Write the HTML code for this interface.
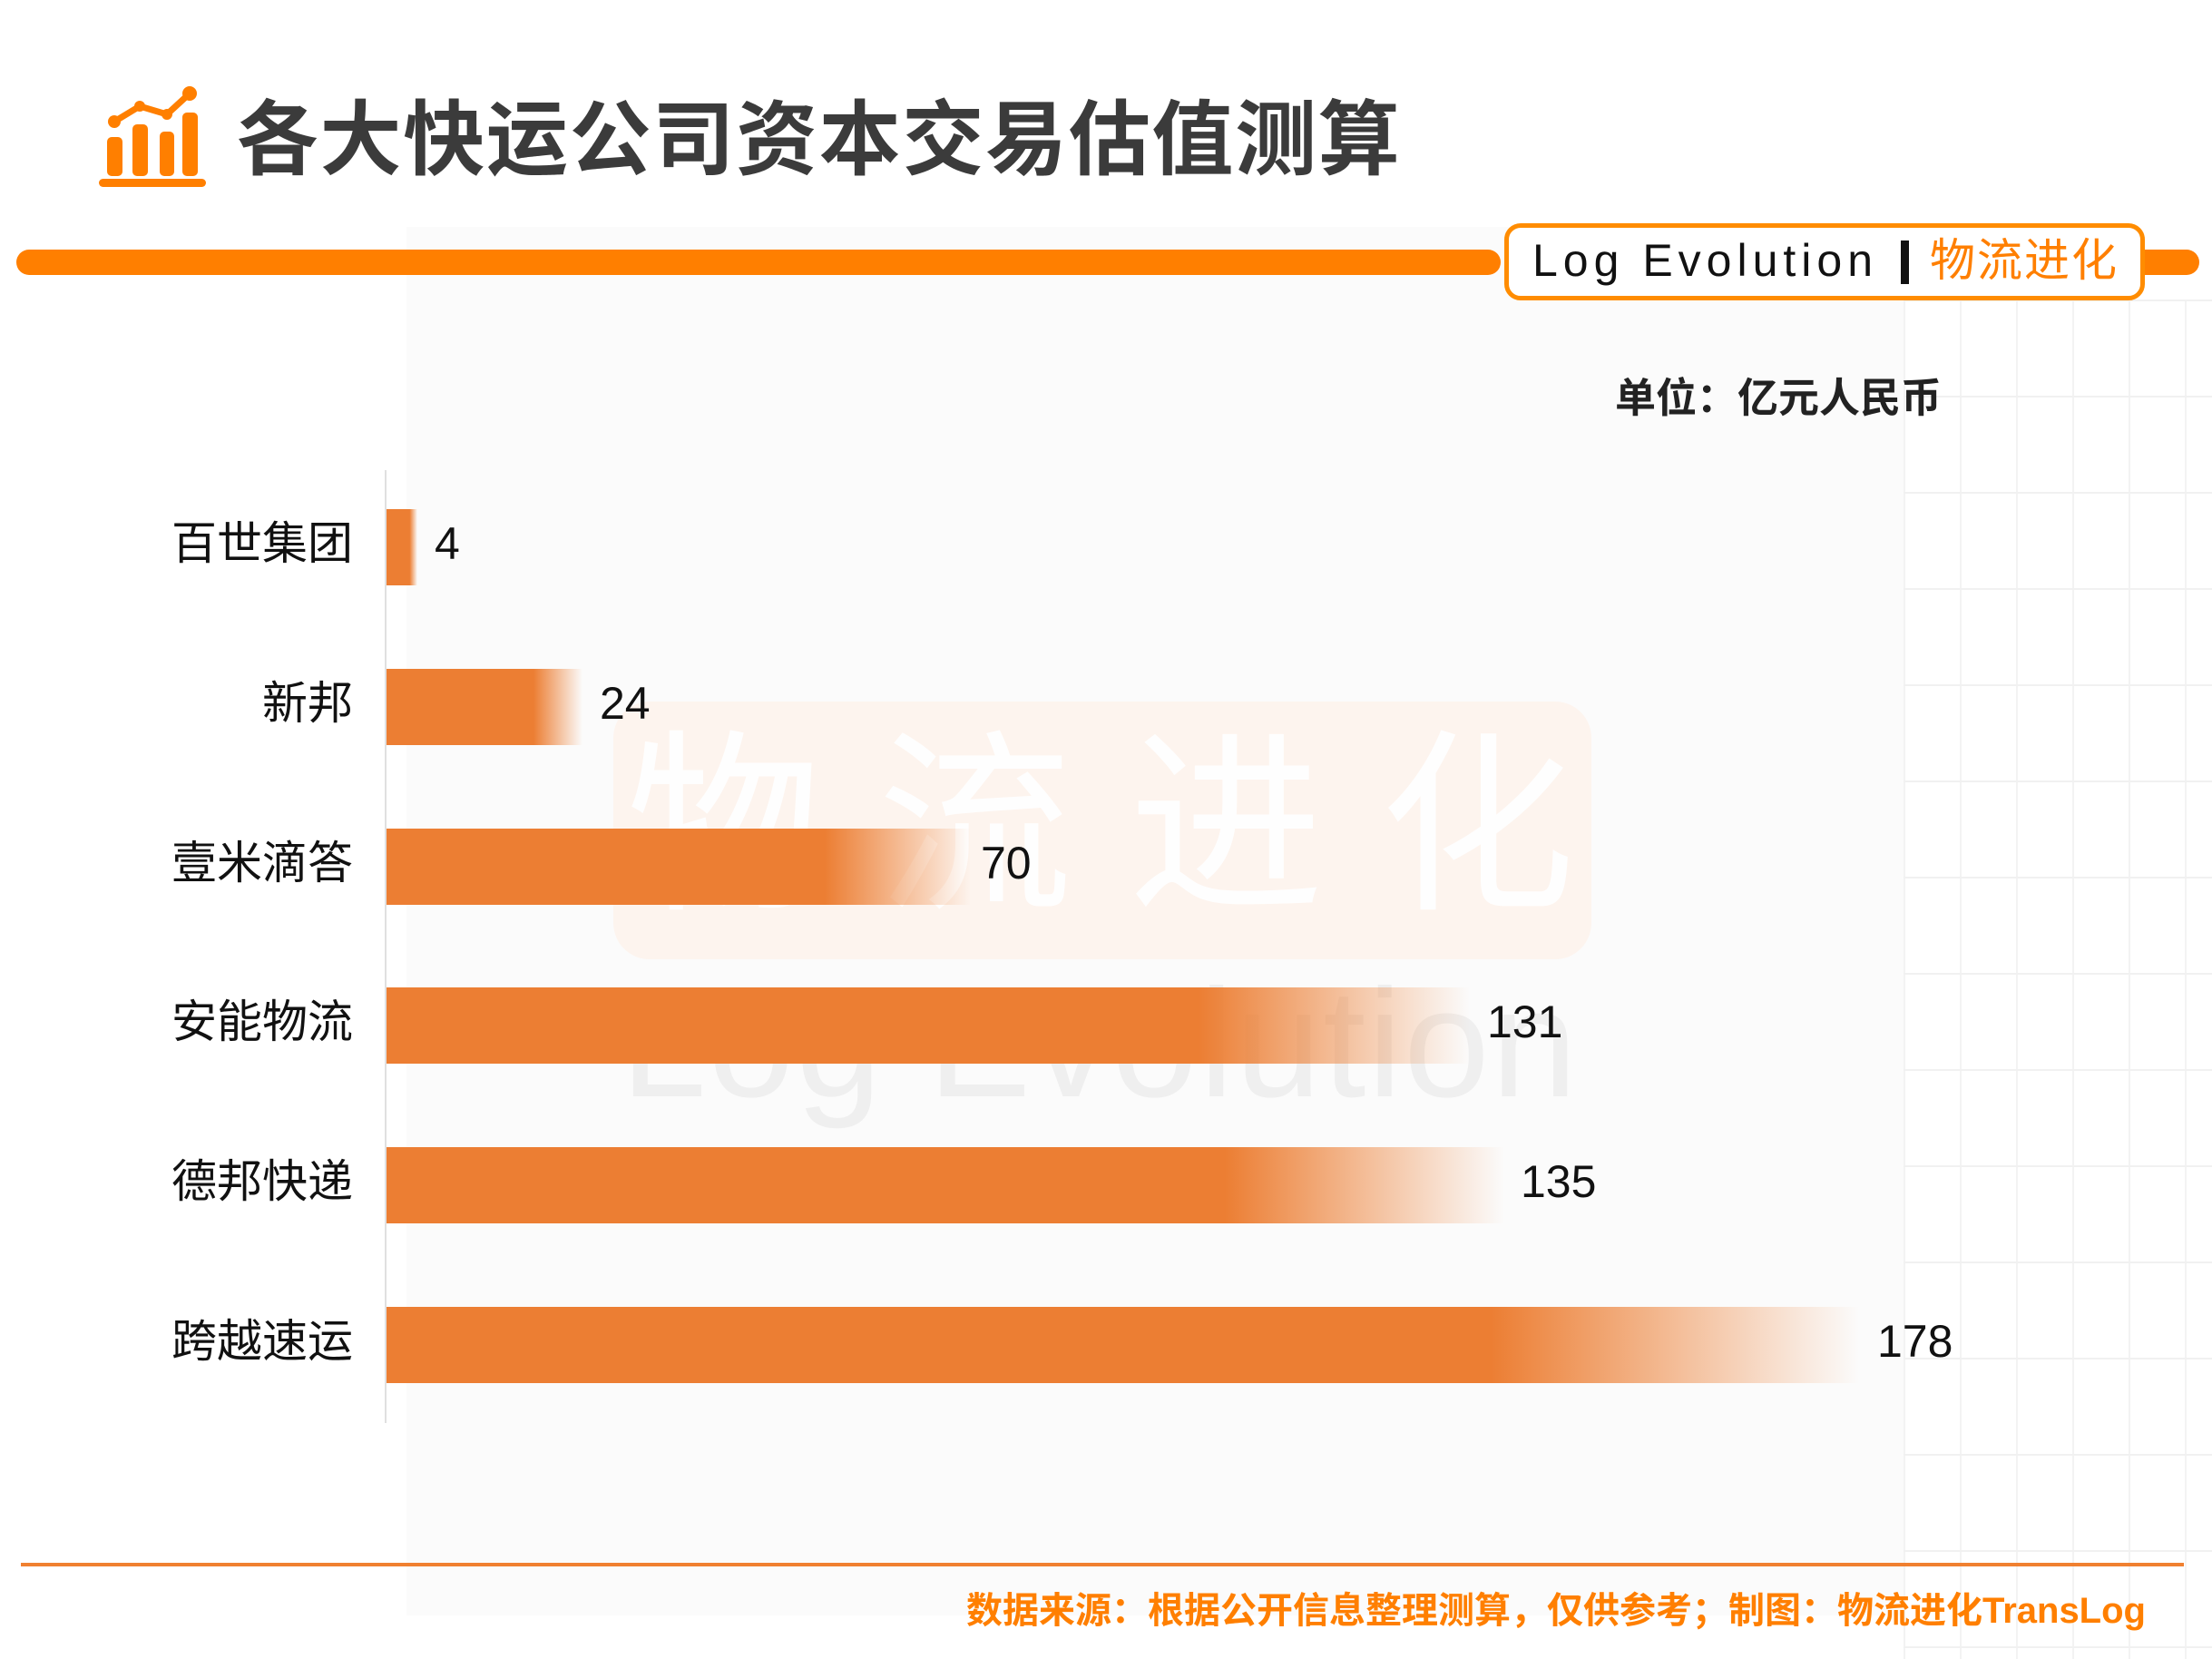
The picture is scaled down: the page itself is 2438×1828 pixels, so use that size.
<!DOCTYPE html>
<html><head><meta charset="utf-8"><style>
*{margin:0;padding:0;box-sizing:border-box}
body{width:2438px;height:1828px;position:relative;background:#fff;overflow:hidden;font-family:"Liberation Sans","Noto Sans CJK SC",sans-serif}
.abs{position:absolute}
.panel{left:448px;top:250px;width:1650px;height:1530px;background:#fbfbfb}
.grid{left:2098px;top:330px;width:340px;height:1498px;background-image:linear-gradient(#eee 2px,transparent 2px),linear-gradient(90deg,#f1f1f1 2px,transparent 2px);background-size:62px 106px;opacity:.8}
.title{left:260px;top:90px;height:130px;display:flex;font-size:90px;font-weight:bold;color:#3b3b3b;line-height:130px}
.title span{width:91.7px;text-align:center;display:block}
.obar{top:275px;height:28px;background:#ff7f00;border-radius:14px}
.logo{left:1658px;top:246px;width:706px;height:85px;border:5px solid #ff8c00;border-radius:18px;background:#fff}
.lt{font-size:50px;line-height:75px;white-space:nowrap;top:250px}
.unit{left:1780px;top:402px;font-size:45px;font-weight:bold;color:#222;white-space:nowrap}
.axis{left:424px;top:518px;width:2px;height:1050px;background:#e0e0e0}
.bar{left:426px;height:84px}
.cat{width:389px;text-align:right;font-size:50px;color:#111;line-height:84px;left:0;margin-top:-4px}
.val{font-size:50px;color:#111;line-height:84px;margin-top:-4px}
.wm{left:676px;top:773px;width:1078px;height:284px;background:#fdf4ee;border-radius:40px}
.wmt{font-size:215px;color:#fff;line-height:215px;top:803px;opacity:.95}
.wml{left:684px;top:1050px;font-size:170px;color:#efefef;white-space:nowrap;line-height:200px;letter-spacing:2px}
.foot{right:73px;top:1747px;font-size:40px;font-weight:bold;color:#ff7f00;white-space:nowrap;line-height:56px}
</style></head><body>
<div class="abs panel"></div>
<div class="abs grid"></div>
<div class="abs wm"></div>
<div class="abs wmt" style="left:690px">物</div>
<div class="abs wmt" style="left:967px">流</div>
<div class="abs wmt" style="left:1244px">进</div>
<div class="abs wmt" style="left:1521px">化</div>
<div class="abs wml">Log Evolution</div>

<svg class="abs" style="left:0;top:0" width="260" height="230">
 <g fill="#ff7f00"><rect x="118" y="151" width="17" height="43" rx="5"/><rect x="146" y="137" width="17" height="57" rx="5"/><rect x="176" y="145" width="16" height="49" rx="5"/><rect x="201" y="124" width="17" height="70" rx="5"/><rect x="109" y="197" width="118" height="9" rx="4.5"/>
 <circle cx="126" cy="134" r="7"/><circle cx="154" cy="117" r="6"/><circle cx="184" cy="126" r="6"/><circle cx="209" cy="103" r="8"/></g>
 <polyline points="126,134 154,117 184,126 209,103" fill="none" stroke="#ff7f00" stroke-width="7"/>
</svg>
<div class="abs title"><span>各</span><span>大</span><span>快</span><span>运</span><span>公</span><span>司</span><span>资</span><span>本</span><span>交</span><span>易</span><span>估</span><span>值</span><span>测</span><span>算</span></div>

<div class="abs obar" style="left:18px;width:1636px"></div>
<div class="abs obar" style="left:2350px;width:74px"></div>
<div class="abs logo"></div>
<div class="abs lt" style="left:1689px;color:#111;letter-spacing:6px">Log Evolution</div>
<div class="abs" style="left:2095px;top:265px;width:9px;height:48px;background:#111"></div>
<div class="abs lt" style="left:2127px;color:#ff7f00;letter-spacing:2px">物流进化</div>

<div class="abs unit">单位：亿元人民币</div>
<div class="abs axis"></div>

<div class="abs cat" style="top:561px">百世集团</div>
<div class="abs bar" style="top:561px;width:34px;background:linear-gradient(90deg,#ec7e33 75%,rgba(236,126,51,0))"></div>
<div class="abs val" style="top:561px;left:479px">4</div>

<div class="abs cat" style="top:737px">新邦</div>
<div class="abs bar" style="top:737px;width:216px;background:linear-gradient(90deg,#ec7e33 75%,rgba(236,126,51,0))"></div>
<div class="abs val" style="top:737px;left:661px">24</div>

<div class="abs cat" style="top:913px">壹米滴答</div>
<div class="abs bar" style="top:913px;width:644px;background:linear-gradient(90deg,#ec7e33 75%,rgba(236,126,51,0))"></div>
<div class="abs val" style="top:913px;left:1081px">70</div>

<div class="abs cat" style="top:1088px">安能物流</div>
<div class="abs bar" style="top:1088px;width:1194px;background:linear-gradient(90deg,#ec7e33 75%,rgba(236,126,51,0))"></div>
<div class="abs val" style="top:1088px;left:1639px">131</div>

<div class="abs cat" style="top:1264px">德邦快递</div>
<div class="abs bar" style="top:1264px;width:1232px;background:linear-gradient(90deg,#ec7e33 75%,rgba(236,126,51,0))"></div>
<div class="abs val" style="top:1264px;left:1676px">135</div>

<div class="abs cat" style="top:1440px">跨越速运</div>
<div class="abs bar" style="top:1440px;width:1623px;background:linear-gradient(90deg,#ec7e33 75%,rgba(236,126,51,0))"></div>
<div class="abs val" style="top:1440px;left:2069px">178</div>

<div class="abs" style="left:23px;top:1722px;width:2384px;height:4px;background:#f08030"></div>
<div class="abs foot">数据来源：根据公开信息整理测算，仅供参考；制图：物流进化TransLog</div>
</body></html>
